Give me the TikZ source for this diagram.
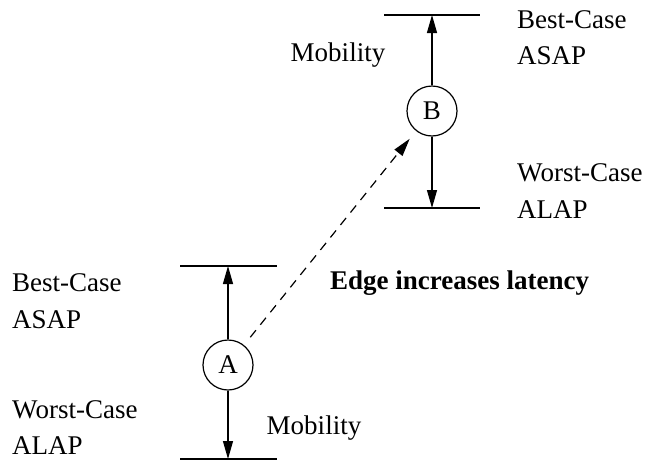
\documentclass[tikz,border=0pt]{standalone}
\usepackage{fontspec}
\setmainfont{Liberation Serif}
\usetikzlibrary{arrows.meta}
\begin{document}
\begin{tikzpicture}[x=1pt,y=-1pt,
  every node/.style={font=\fontsize{27}{32}\selectfont, inner sep=0pt},
  op/.style={circle, draw, line width=1.2pt, minimum size=50pt},
  bound/.style={line width=1.3pt},
  mob/.style={line width=1.2pt, -{Triangle[length=18pt,width=10pt]}},
  dep/.style={line width=1.2pt, dashed, dash pattern=on 9pt off 7pt,
              -{Triangle[length=18pt,width=10pt]}, shorten <=10pt, shorten >=10pt},
  lbl/.style={anchor=west}]
\useasboundingbox (0,0) rectangle (654,461);

% operation B with its ASAP / ALAP bounds
\node[op] (B) at (432,111) {B};
\coordinate (Bt1) at (384,15);  \coordinate (Bt2) at (480,15);
\coordinate (Bb1) at (384,208); \coordinate (Bb2) at (480,208);
\coordinate (Btop) at (432,15); \coordinate (Bbot) at (432,208);
\draw[bound] (Bt1) -- (Bt2);
\draw[bound] (Bb1) -- (Bb2);
\draw[mob] (B.north) -- (Btop);
\draw[mob] (B.south) -- (Bbot);
\node[lbl] (bBest) at (517,20) {Best-Case};
\node[lbl] (bAsap) at (517,56) {ASAP};
\node[lbl] (bWorst) at (517,173) {Worst-Case};
\node[lbl] (bAlap) at (517,210) {ALAP};
\node (bMob) at (338,55) {Mobility};

% operation A with its ASAP / ALAP bounds
\node[op] (A) at (228,365) {A};
\coordinate (At1) at (180,266); \coordinate (At2) at (277,266);
\coordinate (Ab1) at (180,459); \coordinate (Ab2) at (277,459);
\coordinate (Atop) at (228,266); \coordinate (Abot) at (228,459);
\draw[bound] (At1) -- (At2);
\draw[bound] (Ab1) -- (Ab2);
\draw[mob] (A.north) -- (Atop);
\draw[mob] (A.south) -- (Abot);
\node[lbl] (aBest) at (12,283) {Best-Case};
\node[lbl] (aAsap) at (12,320) {ASAP};
\node[lbl] (aWorst) at (12,410) {Worst-Case};
\node[lbl] (aAlap) at (12,446) {ALAP};
\node (aMob) at (314,428) {Mobility};

% new dependency edge A -> B
\draw[dep] (A) -- (B);
\node[lbl, font=\fontsize{27}{32}\selectfont\bfseries] (edge) at (330,283) {Edge increases latency};
\end{tikzpicture}
\end{document}
